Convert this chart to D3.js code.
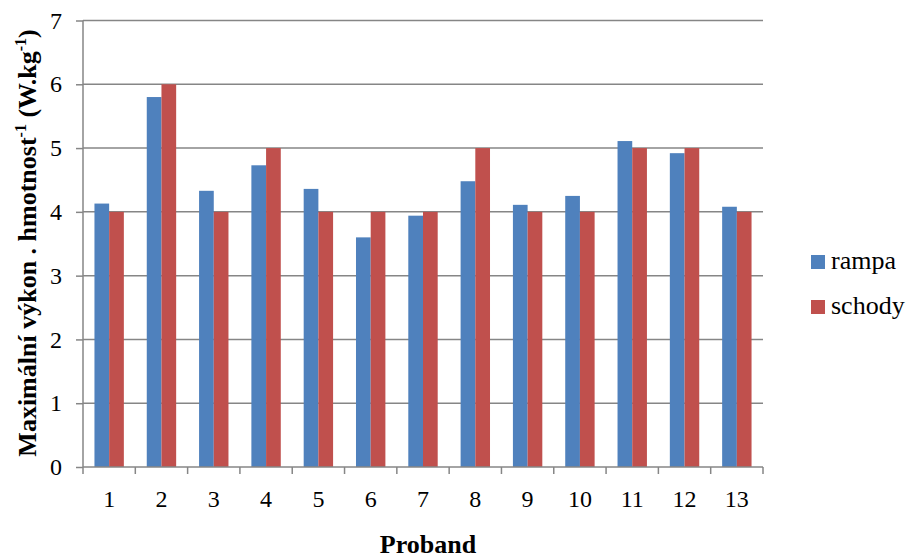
<!DOCTYPE html>
<html>
<head>
<meta charset="utf-8">
<script src="https://cdn.jsdelivr.net/npm/d3@7"></script>
<style>
  html, body { margin: 0; padding: 0; background: #fff; }
</style>
</head>
<body>
<svg id="chart" width="909" height="559"></svg>
<script>
// Probands and measured maximal power per body mass (W.kg-1)
const probands = ["1","2","3","4","5","6","7","8","9","10","11","12","13"];
const rampa  = [4.13, 5.80, 4.33, 4.73, 4.36, 3.60, 3.94, 4.48, 4.11, 4.25, 5.11, 4.92, 4.08];
const schody = [4, 6, 4, 5, 4, 4, 4, 5, 4, 4, 5, 5, 4];
const seriesNames = ["rampa", "schody"];
const seriesColors = ["#4f81bd", "#c0504d"];
const yTicks = [0, 1, 2, 3, 4, 5, 6, 7];

const FONT = "Liberation Serif";

const svg = d3.select("#chart");
const margin = { left: 83, right: 146, top: 20.5, bottom: 92 };
const W = 909, H = 559;
const plotW = W - margin.left - margin.right;
const plotH = H - margin.top - margin.bottom;

const g = svg.append("g").attr("transform", `translate(${margin.left},${margin.top})`);

const x = d3.scaleBand().domain(probands).range([0, plotW]).paddingInner(0).paddingOuter(0);
const inner = d3.scaleBand().domain(seriesNames).range([x.bandwidth() * 0.219, x.bandwidth() * 0.781]);
const y = d3.scaleLinear().domain([0, 7]).range([plotH, 0]);

const gridColor = "#868686";

// horizontal gridlines
g.selectAll("line.grid").data(yTicks.filter(t => t > 0)).enter().append("line")
  .attr("class", "grid")
  .attr("x1", 0).attr("x2", plotW)
  .attr("y1", d => y(d)).attr("y2", d => y(d))
  .attr("stroke", gridColor).attr("stroke-width", 1.5);

// bars
const data = probands.map((p, i) => ({ p, vals: [rampa[i], schody[i]] }));
const groups = g.selectAll("g.cat").data(data).enter().append("g")
  .attr("transform", d => `translate(${x(d.p)},0)`);
groups.selectAll("rect").data(d => d.vals.map((v, k) => ({ v, k }))).enter().append("rect")
  .attr("x", d => inner(seriesNames[d.k]))
  .attr("width", inner.bandwidth())
  .attr("y", d => y(d.v))
  .attr("height", d => y(0) - y(d.v))
  .attr("fill", d => seriesColors[d.k]);

// y axis
const yAxis = g.append("g").call(d3.axisLeft(y).tickValues(yTicks).tickSize(7).tickPadding(14).tickFormat(d3.format("d")));
yAxis.attr("font-family", null).attr("font-size", null);
yAxis.select(".domain").attr("stroke", gridColor).attr("stroke-width", 1.5).attr("d", `M0,${plotH}V0`);
yAxis.selectAll(".tick line").attr("stroke", gridColor).attr("stroke-width", 1.5);
yAxis.selectAll(".tick text").style("font-size", "24px").attr("fill", "#000")
  .style("font-family", FONT);

// x axis: ticks at category boundaries
const xAxisG = g.append("g").attr("transform", `translate(0,${plotH})`);
xAxisG.append("line").attr("x1", 0).attr("x2", plotW).attr("y1", 0).attr("y2", 0)
  .attr("stroke", gridColor).attr("stroke-width", 1.5);
const bounds = probands.map(p => x(p)).concat([plotW]);
xAxisG.selectAll("line.tk").data(bounds).enter().append("line")
  .attr("class", "tk")
  .attr("x1", d => d).attr("x2", d => d).attr("y1", 0).attr("y2", 7)
  .attr("stroke", gridColor).attr("stroke-width", 1.5);
xAxisG.selectAll("text").data(probands).enter().append("text")
  .attr("x", d => x(d) + x.bandwidth() / 2)
  .attr("y", 40)
  .attr("text-anchor", "middle")
  .style("font-size", "24px")
  .style("font-family", FONT)
  .attr("fill", "#000")
  .text(d => d);

// axis titles
svg.append("text")
  .attr("x", margin.left + plotW / 2 + 5).attr("y", 553)
  .attr("text-anchor", "middle").style("font-size", "26px").style("font-weight", "bold")
  .style("font-family", FONT)
  .text("Proband");

const yt = svg.append("text")
  .attr("transform", `translate(36,243) rotate(-90)`)
  .attr("text-anchor", "middle").style("font-size", "26px").style("font-weight", "bold")
  .style("font-family", FONT);
yt.append("tspan").text("Maximální výkon . hmotnost");
yt.append("tspan").style("font-size", "16px").attr("dy", -10).text("-1");
yt.append("tspan").attr("dy", 10).text(" (W.kg");
yt.append("tspan").style("font-size", "16px").attr("dy", -10).text("-1");
yt.append("tspan").attr("dy", 10).text(")");

// legend
const legend = svg.append("g").attr("transform", "translate(811,0)");
const legBase = [269, 314];
seriesNames.forEach((s, i) => {
  legend.append("rect").attr("x", 0).attr("y", legBase[i] - 14).attr("width", 14).attr("height", 14)
    .attr("fill", seriesColors[i]);
  legend.append("text").attr("x", 20).attr("y", legBase[i])
    .style("font-size", "26px").style("font-family", FONT).attr("fill", "#000").text(s);
});
</script>
</body>
</html>
